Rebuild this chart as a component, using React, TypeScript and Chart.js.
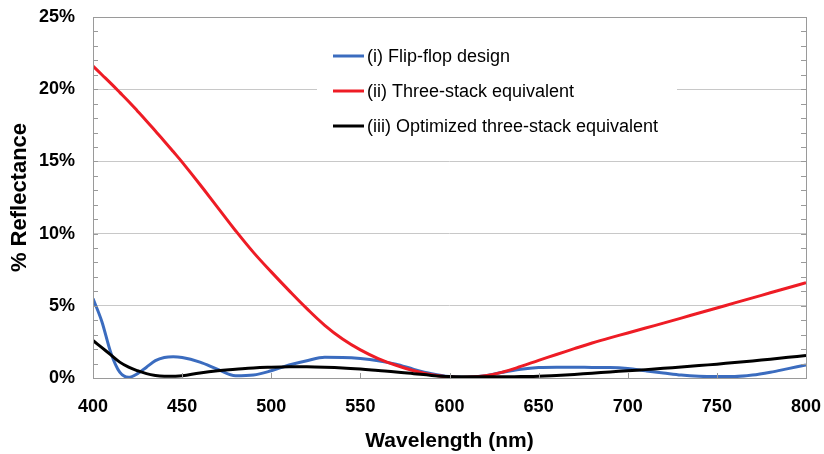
import React, { useEffect, useRef } from "react";
import { Chart, registerables } from "chart.js";

Chart.register(...registerables);

const wavelengths = [400, 405, 410, 415, 420, 425, 430, 435, 440, 445, 450, 460, 470, 480, 490, 500, 510, 520, 530, 540, 550, 560, 570, 580, 590, 600, 610, 620, 630, 640, 650, 660, 670, 680, 690, 700, 710, 720, 730, 740, 750, 760, 770, 780, 790, 800];

const flipFlop = [5.5, 3.9, 1.75, 0.4, 0.05, 0.3, 0.75, 1.2, 1.42, 1.47, 1.42, 1.1, 0.6, 0.15, 0.2, 0.5, 0.9, 1.2, 1.43, 1.42, 1.35, 1.2, 0.95, 0.6, 0.3, 0.1, 0.05, 0.15, 0.4, 0.6, 0.72, 0.75, 0.75, 0.73, 0.72, 0.65, 0.5, 0.35, 0.2, 0.12, 0.1, 0.1, 0.2, 0.4, 0.65, 0.9];

const threeStack = [21.6, 21.0, 20.4, 19.78, 19.15, 18.48, 17.8, 17.1, 16.4, 15.68, 14.95, 13.4, 11.8, 10.2, 8.7, 7.35, 6.05, 4.8, 3.65, 2.7, 1.95, 1.35, 0.88, 0.5, 0.22, 0.07, 0.05, 0.15, 0.42, 0.8, 1.22, 1.63, 2.03, 2.42, 2.78, 3.12, 3.46, 3.8, 4.15, 4.5, 4.85, 5.2, 5.55, 5.9, 6.25, 6.6];

const optimized = [2.6, 2.1, 1.6, 1.1, 0.75, 0.5, 0.3, 0.18, 0.12, 0.12, 0.15, 0.35, 0.5, 0.6, 0.7, 0.75, 0.78, 0.78, 0.75, 0.7, 0.62, 0.52, 0.42, 0.3, 0.18, 0.1, 0.08, 0.08, 0.08, 0.1, 0.12, 0.18, 0.25, 0.33, 0.42, 0.5, 0.58, 0.67, 0.76, 0.86, 0.96, 1.07, 1.18, 1.3, 1.43, 1.55];

const seriesLabels = ["(i) Flip-flop design", "(ii) Three-stack equivalent", "(iii) Optimized three-stack equivalent"];
const seriesColors = ["#3b6cbf", "#ee1c25", "#000000"];

const FONT = "'Liberation Sans', Arial, Helvetica, sans-serif";

const framePlugin = {
  id: "frame",
  afterDatasetsDraw(chart: any) {
    const { ctx, chartArea, scales } = chart;
    const { left, right, top, bottom } = chartArea;
    const y = scales.y;
    const x = scales.x;
    ctx.save();
    ctx.strokeStyle = "#9a9a9a";
    ctx.lineWidth = 1;
    for (let v = 0; v <= 25; v += 1) {
      const py = Math.round(y.getPixelForValue(v)) + 0.5;
      ctx.beginPath();
      ctx.moveTo(left, py);
      ctx.lineTo(left + 5, py);
      ctx.moveTo(right, py);
      ctx.lineTo(right - 5, py);
      ctx.stroke();
    }
    for (let v = 400; v <= 800; v += 50) {
      const px = Math.round(x.getPixelForValue(v)) + 0.5;
      ctx.beginPath();
      ctx.moveTo(px, bottom);
      ctx.lineTo(px, bottom - 5);
      ctx.stroke();
    }
    ctx.strokeRect(Math.round(left) + 0.5, Math.round(top) + 0.5, Math.round(right - left), Math.round(bottom - top));

    // legend
    ctx.fillStyle = "#ffffff";
    ctx.fillRect(317, 38, 360, 106);
    const rows = [56, 91, 126];
    ctx.font = `18px ${FONT}`;
    ctx.textBaseline = "middle";
    ctx.textAlign = "left";
    seriesLabels.forEach((lab, i) => {
      ctx.strokeStyle = seriesColors[i];
      ctx.lineWidth = 3;
      ctx.beginPath();
      ctx.moveTo(333, rows[i]);
      ctx.lineTo(364, rows[i]);
      ctx.stroke();
      ctx.fillStyle = "#000000";
      ctx.fillText(lab, 367, rows[i] + 1);
    });
    ctx.restore();
  },
};

export default function App() {
  const ref = useRef<HTMLCanvasElement | null>(null);
  useEffect(() => {
    if (!ref.current) return;
    const mk = (vals: number[]) => wavelengths.map((w, i) => ({ x: w, y: vals[i] }));
    const chart = new Chart(ref.current, {
      type: "line",
      data: {
        datasets: [
          { label: seriesLabels[0], data: mk(flipFlop), borderColor: seriesColors[0], borderWidth: 3, pointRadius: 0, cubicInterpolationMode: "monotone", order: 3, fill: false },
          { label: seriesLabels[1], data: mk(threeStack), borderColor: seriesColors[1], borderWidth: 3, pointRadius: 0, tension: 0.4, order: 2, fill: false },
          { label: seriesLabels[2], data: mk(optimized), borderColor: seriesColors[2], borderWidth: 3, pointRadius: 0, tension: 0.4, order: 1, fill: false },
        ],
      },
      options: {
        responsive: false,
        animation: false,
        devicePixelRatio: 1,
        layout: { padding: { top: 17, right: 18, left: 0, bottom: 0 } },
        plugins: { legend: { display: false }, tooltip: { enabled: false } },
        scales: {
          x: {
            type: "linear",
            min: 400,
            max: 800,
            afterFit: (s: any) => { s.height = 76; s.paddingLeft = 0; s.paddingRight = 0; },
            ticks: { stepSize: 50, color: "#000", padding: 10, maxRotation: 0, font: { family: FONT, size: 18, weight: "bold" } },
            grid: { display: false },
            border: { display: false },
            title: { display: true, text: "Wavelength (nm)", color: "#000", padding: { top: 0, bottom: 0 }, font: { family: FONT, size: 21, weight: "bold" } },
          },
          y: {
            min: 0,
            max: 25,
            afterFit: (s: any) => { s.width = 93; s.paddingTop = 0; s.paddingBottom = 0; },
            ticks: { stepSize: 5, color: "#000", padding: 18, callback: (v: any) => `${v}%`, font: { family: FONT, size: 18, weight: "bold" } },
            grid: { color: "#c8c8c8", drawTicks: false, lineWidth: 1 },
            border: { display: false },
            title: { display: true, text: "% Reflectance", color: "#000", padding: { top: 7, bottom: 0 }, font: { family: FONT, size: 22, weight: "bold" } },
          },
        },
      },
      plugins: [framePlugin],
    } as any);
    return () => chart.destroy();
  }, []);
  return (
    <div style={{ position: "fixed", left: 0, top: 0, width: 824, height: 454, background: "#fff" }}>
      <canvas ref={ref} width={824} height={454} style={{ display: "block" }} />
    </div>
  );
}
